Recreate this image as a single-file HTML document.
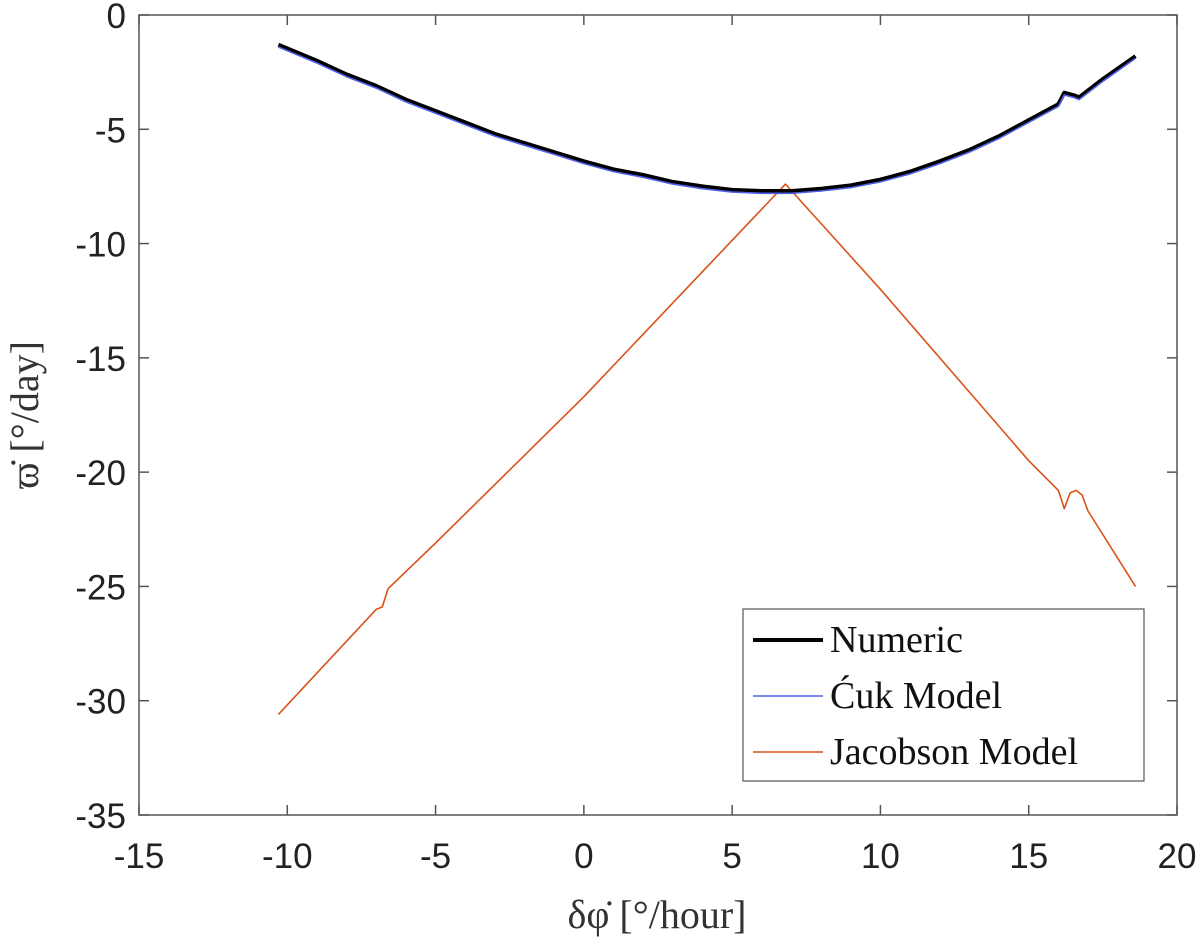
<!DOCTYPE html>
<html><head><meta charset="utf-8"><style>
html,body{margin:0;padding:0;background:#fff;}
svg{display:block;}
</style></head><body>
<svg id="chart" width="1200" height="941" xmlns="http://www.w3.org/2000/svg">
<g id="axes"></g>
<g id="series"></g>
<g id="legend"></g>
</svg>
<script>
const xTicks=[-15,-10,-5,0,5,10,15,20];
const yTicks=[0,-5,-10,-15,-20,-25,-30,-35];
const numX=[-10.3,-9,-8,-7,-6,-5,-4,-3,-2,-1,0,1,2,3,4,5,6,7,8,9,10,11,12,13,14,15,16,16.2,16.5,16.7,17.5,18.6];
const numY=[-1.3,-2.0,-2.6,-3.1,-3.7,-4.2,-4.7,-5.2,-5.6,-6.0,-6.4,-6.75,-7.0,-7.3,-7.5,-7.65,-7.7,-7.7,-7.6,-7.45,-7.2,-6.85,-6.4,-5.9,-5.3,-4.6,-3.9,-3.4,-3.5,-3.6,-2.8,-1.8];
const cukY=[-1.4,-2.1,-2.7,-3.2,-3.8,-4.3,-4.8,-5.3,-5.7,-6.1,-6.5,-6.85,-7.1,-7.4,-7.6,-7.75,-7.8,-7.8,-7.7,-7.55,-7.3,-6.95,-6.5,-6.0,-5.4,-4.7,-4.0,-3.5,-3.6,-3.7,-2.9,-1.9];
const jacX=[-10.3,-7,-6.8,-6.6,-5,0,6.8,10,14,15,16,16.2,16.4,16.6,16.8,17,18.6];
const jacY=[-30.6,-26,-25.9,-25.1,-23.1,-16.7,-7.4,-12.0,-18.0,-19.5,-20.8,-21.6,-20.9,-20.8,-21.0,-21.7,-25.0];
const L=139,R=1177,T=15,B=815;
const sx=v=>L+(v+15)/35*(R-L);
const sy=v=>T+(0-v)/35*(B-T);
const NS="http://www.w3.org/2000/svg";
function mk(tag,attrs,parent,text){const e=document.createElementNS(NS,tag);for(const k in attrs)e.setAttribute(k,attrs[k]);if(text!==undefined)e.textContent=text;parent.appendChild(e);return e;}
const axes=document.getElementById('axes');
const frame=mk('rect',{x:L,y:T,width:R-L,height:B-T,fill:'none',stroke:'#555',"stroke-width":1.5},axes);


xTicks.forEach(v=>{
  const x=sx(v);
  const t=mk('line',{x1:x,x2:x,y1:B,y2:B-10,stroke:'#555',"stroke-width":1.5},axes);
  
  
  const t2=mk('line',{x1:x,x2:x,y1:T,y2:T+10,stroke:'#555',"stroke-width":1.5},axes);
  
  
  const lb=mk('text',{x:x,y:868,"text-anchor":"middle","font-family":"Liberation Sans, sans-serif","font-size":35,fill:'#222'},axes,String(v));
  
  
});
yTicks.forEach(v=>{
  const y=sy(v);
  const t=mk('line',{x1:L,x2:L+10,y1:y,y2:y,stroke:'#555',"stroke-width":1.5},axes);
  
  
  const t2=mk('line',{x1:R,x2:R-10,y1:y,y2:y,stroke:'#555',"stroke-width":1.5},axes);
  
  
  const lb=mk('text',{x:126,y:y+13,"text-anchor":"end","font-family":"Liberation Sans, sans-serif","font-size":35,fill:'#222'},axes,String(v));
  
  
});
const xt=mk('text',{x:657,y:928,"text-anchor":"middle","font-family":"Liberation Serif, serif","font-size":40,fill:'#333'},axes,'δφ̇ [°/hour]');


const yt=mk('text',{x:0,y:0,"text-anchor":"middle","font-family":"Liberation Serif, serif","font-size":40,fill:'#333',transform:'translate(38,415) rotate(-90)'},axes,'ϖ̇ [°/day]');


const series=document.getElementById('series');
function path(xs,ys,color,w,name){
  const d=xs.map((x,i)=>(i?'L':'M')+sx(x).toFixed(1)+' '+sy(ys[i]).toFixed(1)).join(' ');
  const p=mk('path',{d:d,fill:'none',stroke:color,"stroke-width":w,"stroke-linejoin":"round"},series);
  
  
}
path(jacX,jacY,'#d95319',1.6,'jacobson-line');
path(numX,numY,'#000',4,'numeric-line');
path(numX,cukY,'#5060e8',1.6,'cuk-line');
const lg=document.getElementById('legend');
const box=mk('rect',{x:743,y:609,width:401,height:172,fill:'#fff',stroke:'#555',"stroke-width":1.2},lg);


const items=[['Numeric','#000',4],['Ćuk Model','#5060e8',1.6],['Jacobson Model','#d95319',1.6]];
items.forEach((it,i)=>{
  const y=640+i*56;
  const ln=mk('line',{x1:753,x2:823,y1:y,y2:y,stroke:it[1],"stroke-width":it[2]},lg);
  
  
  const tx=mk('text',{x:830,y:y+12,"font-family":"Liberation Serif, serif","font-size":38,fill:'#111'},lg,it[0]);
  
  
});
</script>
</body></html>
